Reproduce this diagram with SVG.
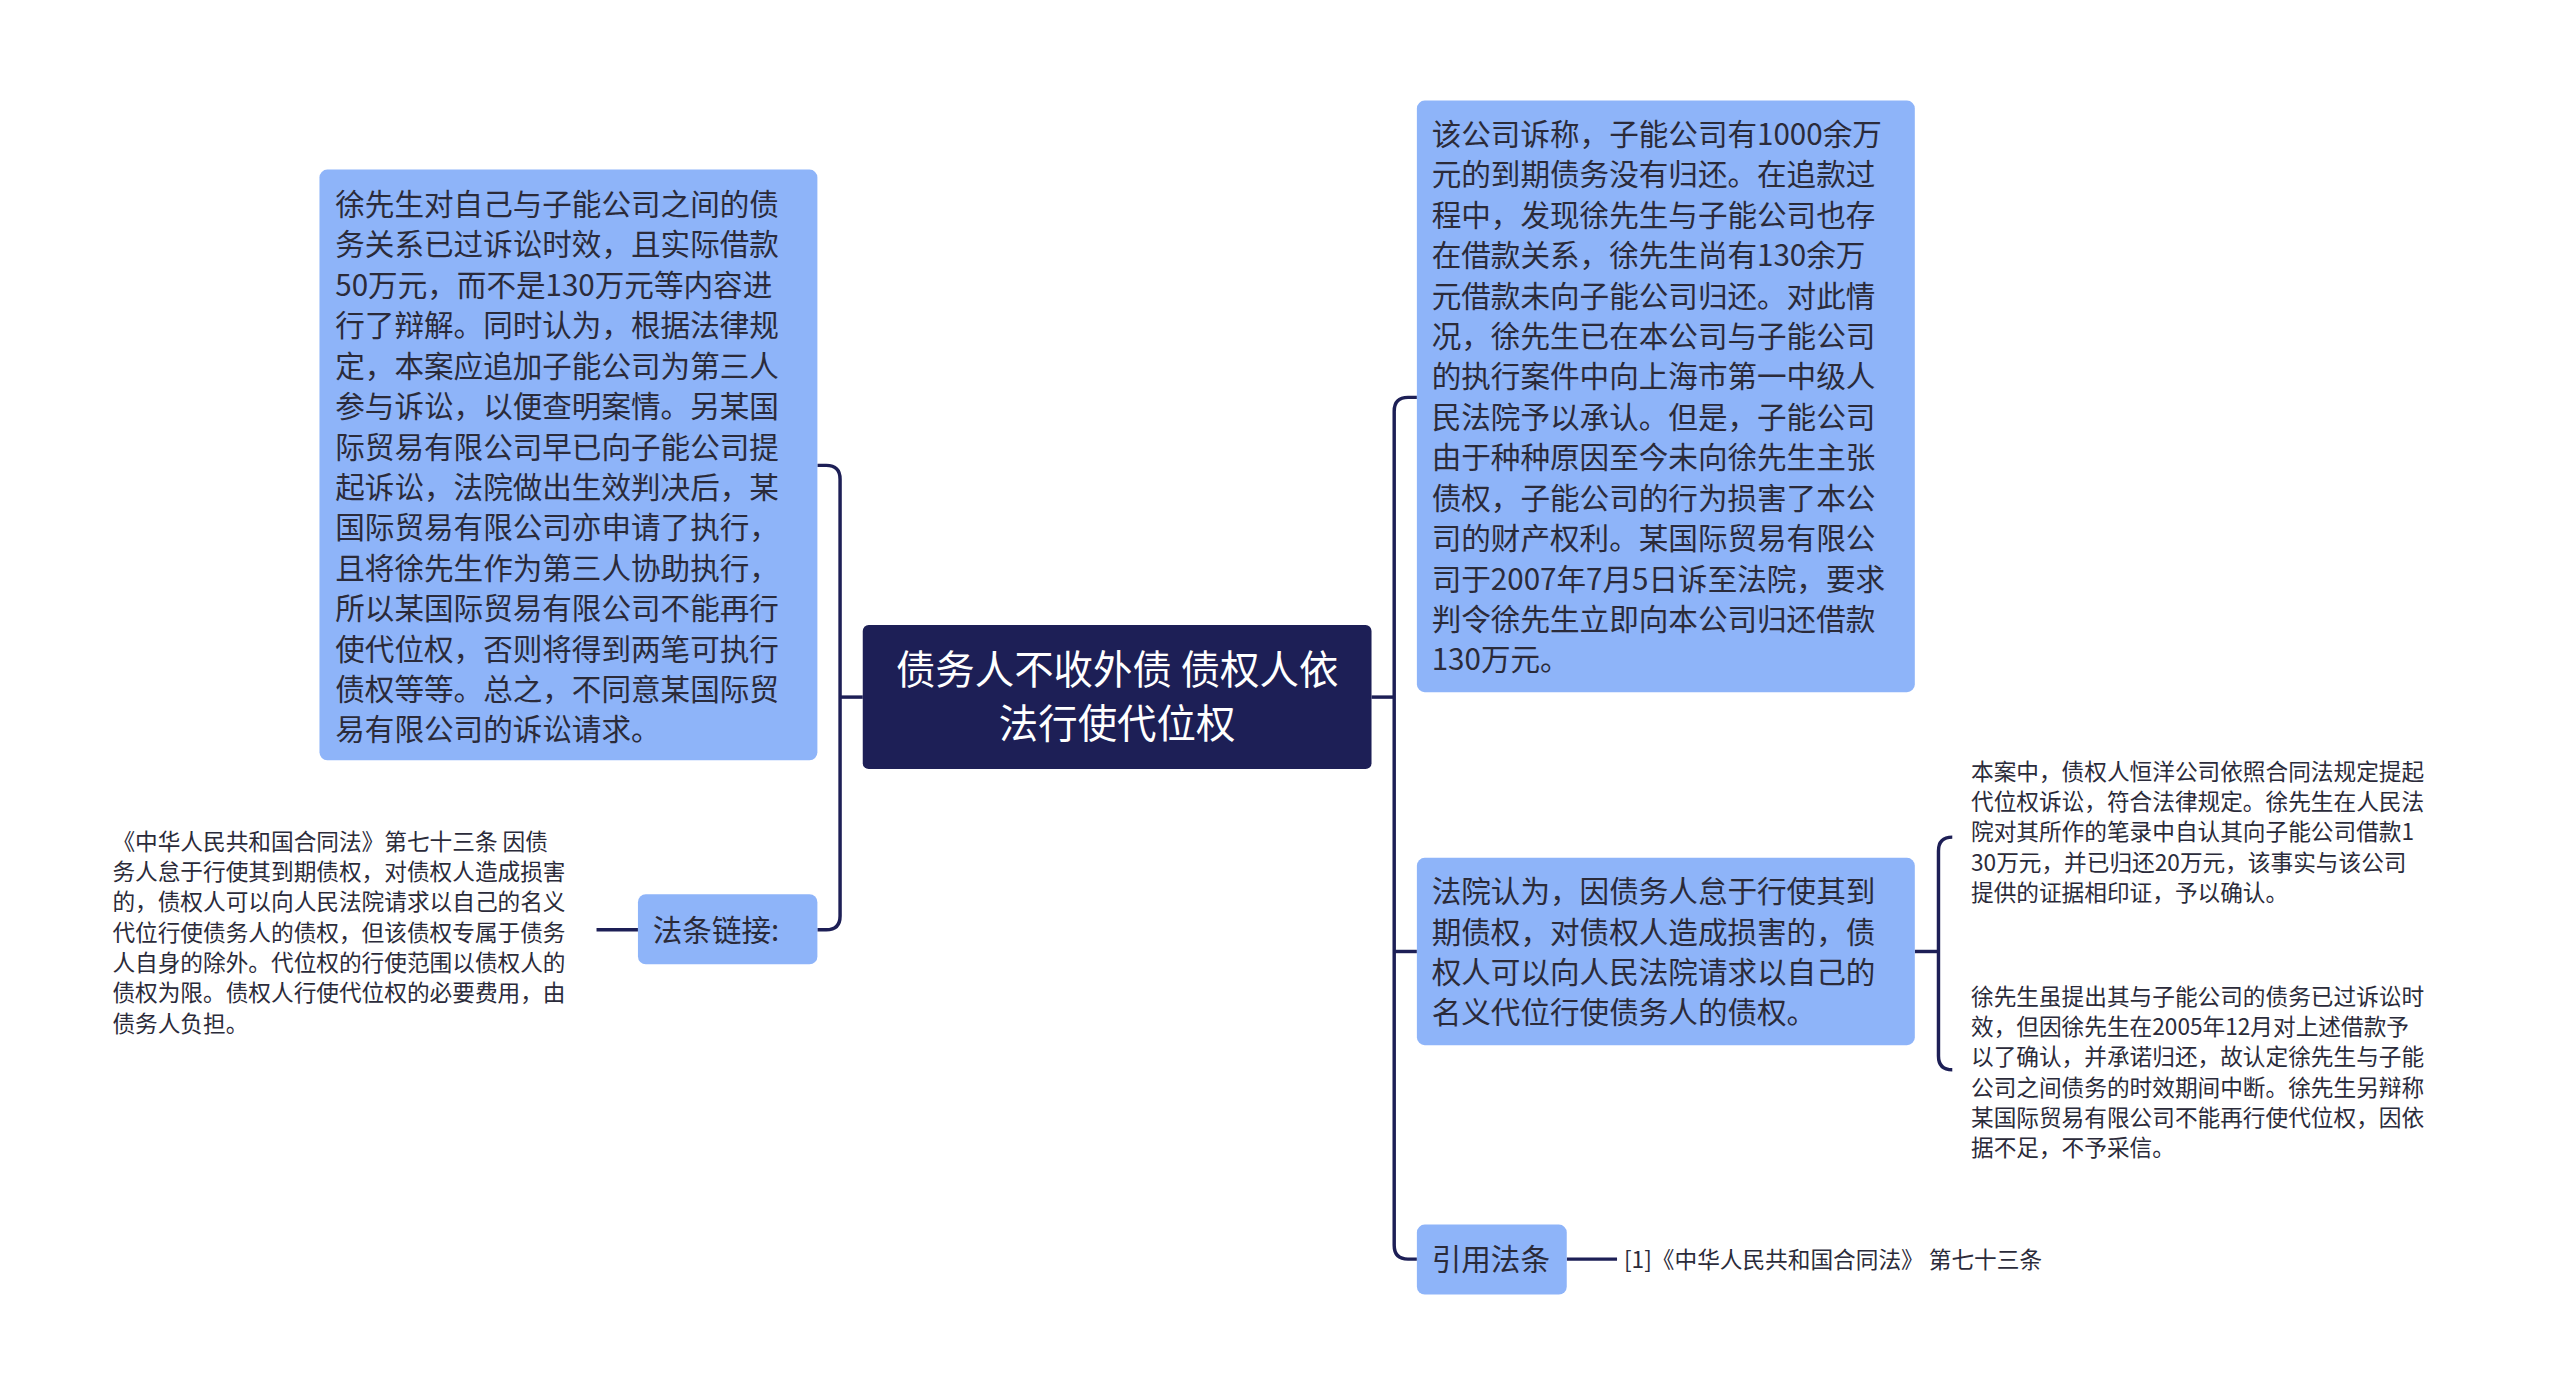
<svg xmlns="http://www.w3.org/2000/svg" width="2560" height="1399" viewBox="0 0 2560 1399">
<style>
.b{fill:#8eb4f9;}
.t{font-family:"Noto Sans CJK SC","Noto Sans",sans-serif;font-size:30px;fill:#2b2b3a;}
.s{font-family:"Noto Sans CJK SC","Noto Sans",sans-serif;font-size:23px;fill:#2b2b3a;}
.c{fill:none;stroke:#1d1f56;stroke-width:3.5;}
</style>
<rect width="2560" height="1399" fill="#fff"/>
<g transform="scale(0.986)">
<g id="connectors">
<path class="c" d="M1391 707 H1414"/>
<path class="c" d="M1437 403 H1428 Q1414 403 1414 417 V1263 Q1414 1277 1428 1277 H1437"/>
<path class="c" d="M1414 965 H1437"/>
<path class="c" d="M875 707 H852"/>
<path class="c" d="M829 472 H838 Q852 472 852 486 V929 Q852 943 838 943 H829"/>
<path class="c" d="M647 943 H605"/>
<path class="c" d="M1589 1277 H1640"/>
<path class="c" d="M1942 965 H1966"/>
<path class="c" d="M1980 849 Q1966 849 1966 863 V1071 Q1966 1085 1980 1085"/>
</g>
<g id="center"><rect x="875" y="634" width="516" height="146" rx="6" fill="#1d1f56"/>
<text x="1133" y="694" text-anchor="middle" font-family="Noto Sans CJK SC,sans-serif" font-size="40" fill="#fff">债务人不收外债 债权人依</text>
<text x="1133" y="748" text-anchor="middle" font-family="Noto Sans CJK SC,sans-serif" font-size="40" fill="#fff">法行使代位权</text></g>
<g id="left1"><rect class="b" x="324" y="172" width="505" height="599" rx="8"/>
<text class="t" x="340" y="218">徐先生对自己与子能公司之间的债<tspan x="340" dy="41">务关系已过诉讼时效，且实际借款</tspan><tspan x="340" dy="41">50万元，而不是130万元等内容进</tspan><tspan x="340" dy="41">行了辩解。同时认为，根据法律规</tspan><tspan x="340" dy="41">定，本案应追加子能公司为第三人</tspan><tspan x="340" dy="41">参与诉讼，以便查明案情。另某国</tspan><tspan x="340" dy="41">际贸易有限公司早已向子能公司提</tspan><tspan x="340" dy="41">起诉讼，法院做出生效判决后，某</tspan><tspan x="340" dy="41">国际贸易有限公司亦申请了执行，</tspan><tspan x="340" dy="41">且将徐先生作为第三人协助执行，</tspan><tspan x="340" dy="41">所以某国际贸易有限公司不能再行</tspan><tspan x="340" dy="41">使代位权，否则将得到两笔可执行</tspan><tspan x="340" dy="41">债权等等。总之，不同意某国际贸</tspan><tspan x="340" dy="41">易有限公司的诉讼请求。</tspan></text></g>
<g id="left2"><rect class="b" x="647" y="907" width="182" height="71" rx="8"/>
<text class="t" x="662" y="954">法条链接:</text></g>
<g id="law"><text class="s" x="114" y="862">《中华人民共和国合同法》第七十三条 因债<tspan x="114" dy="30.7">务人怠于行使其到期债权，对债权人造成损害</tspan><tspan x="114" dy="30.7">的，债权人可以向人民法院请求以自己的名义</tspan><tspan x="114" dy="30.7">代位行使债务人的债权，但该债权专属于债务</tspan><tspan x="114" dy="30.7">人自身的除外。代位权的行使范围以债权人的</tspan><tspan x="114" dy="30.7">债权为限。债权人行使代位权的必要费用，由</tspan><tspan x="114" dy="30.7">债务人负担。</tspan></text></g>
<g id="right1"><rect class="b" x="1437" y="102" width="505" height="600" rx="8"/>
<text class="t" x="1452" y="147">该公司诉称，子能公司有1000余万<tspan x="1452" dy="41">元的到期债务没有归还。在追款过</tspan><tspan x="1452" dy="41">程中，发现徐先生与子能公司也存</tspan><tspan x="1452" dy="41">在借款关系，徐先生尚有130余万</tspan><tspan x="1452" dy="41">元借款未向子能公司归还。对此情</tspan><tspan x="1452" dy="41">况，徐先生已在本公司与子能公司</tspan><tspan x="1452" dy="41">的执行案件中向上海市第一中级人</tspan><tspan x="1452" dy="41">民法院予以承认。但是，子能公司</tspan><tspan x="1452" dy="41">由于种种原因至今未向徐先生主张</tspan><tspan x="1452" dy="41">债权，子能公司的行为损害了本公</tspan><tspan x="1452" dy="41">司的财产权利。某国际贸易有限公</tspan><tspan x="1452" dy="41">司于2007年7月5日诉至法院，要求</tspan><tspan x="1452" dy="41">判令徐先生立即向本公司归还借款</tspan><tspan x="1452" dy="41">130万元。</tspan></text></g>
<g id="right2"><rect class="b" x="1437" y="870" width="505" height="190" rx="8"/>
<text class="t" x="1452" y="915">法院认为，因债务人怠于行使其到<tspan x="1452" dy="41">期债权，对债权人造成损害的，债</tspan><tspan x="1452" dy="41">权人可以向人民法院请求以自己的</tspan><tspan x="1452" dy="41">名义代位行使债务人的债权。</tspan></text></g>
<g id="right3"><rect class="b" x="1437" y="1242" width="152" height="71" rx="8"/>
<text class="t" x="1452" y="1288">引用法条</text></g>
<g id="ref"><text class="s" x="1647" y="1286">[1]《中华人民共和国合同法》 第七十三条</text></g>
<g id="r2a"><text class="s" x="1999" y="791">本案中，债权人恒洋公司依照合同法规定提起<tspan x="1999" dy="30.7">代位权诉讼，符合法律规定。徐先生在人民法</tspan><tspan x="1999" dy="30.7">院对其所作的笔录中自认其向子能公司借款1</tspan><tspan x="1999" dy="30.7">30万元，并已归还20万元，该事实与该公司</tspan><tspan x="1999" dy="30.7">提供的证据相印证，予以确认。</tspan></text></g>
<g id="r2b"><text class="s" x="1999" y="1019">徐先生虽提出其与子能公司的债务已过诉讼时<tspan x="1999" dy="30.7">效，但因徐先生在2005年12月对上述借款予</tspan><tspan x="1999" dy="30.7">以了确认，并承诺归还，故认定徐先生与子能</tspan><tspan x="1999" dy="30.7">公司之间债务的时效期间中断。徐先生另辩称</tspan><tspan x="1999" dy="30.7">某国际贸易有限公司不能再行使代位权，因依</tspan><tspan x="1999" dy="30.7">据不足，不予采信。</tspan></text></g>
</g>
</svg>
